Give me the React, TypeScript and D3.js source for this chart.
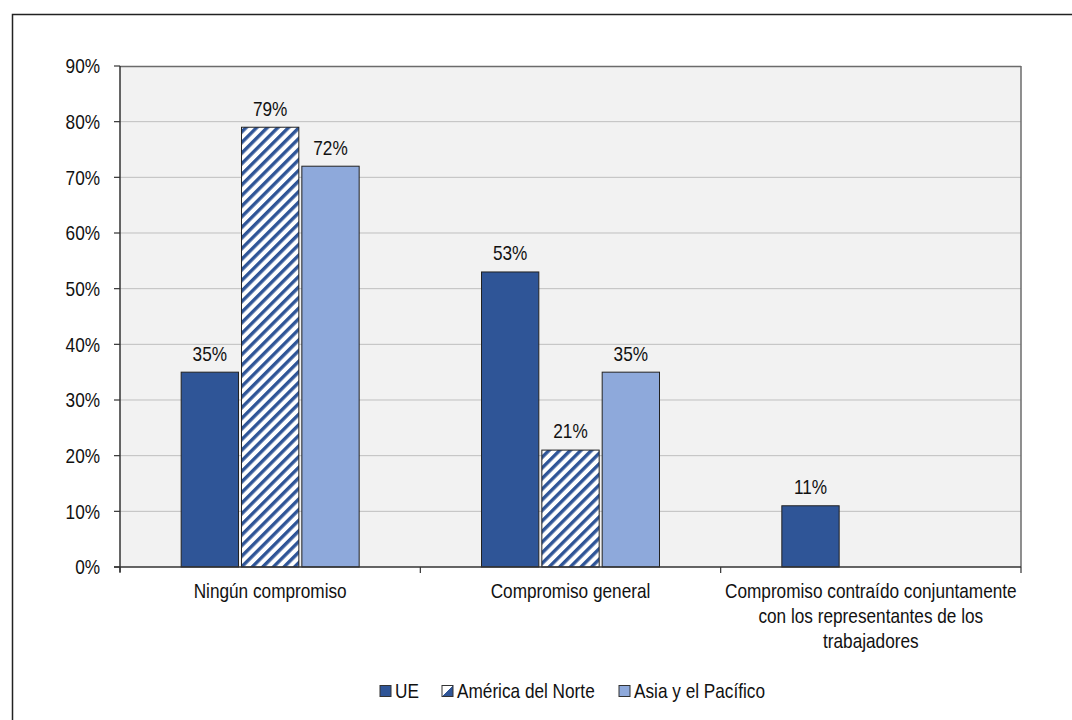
import React from "react";
import * as d3 from "d3";

const categories = [
  ["Ningún compromiso"],
  ["Compromiso general"],
  ["Compromiso contraído conjuntamente", "con los representantes de los", "trabajadores"],
];
const seriesNames = ["UE", "América del Norte", "Asia y el Pacífico"];
const ueValues = [35, 53, 11];
const naValues = [79, 21, null];
const apValues = [72, 35, null];
const yTicks = [0, 10, 20, 30, 40, 50, 60, 70, 80, 90];

const W = 1072;
const H = 720;
const M = { left: 120, right: 1021, top: 66, bottom: 567 };
const FONT = "'Liberation Sans', Arial, sans-serif";
const FS = 21;
const SX = 0.82;
const COLORS = ["#2F5597", "url(#hatch)", "#8EA9DB"];

function T({ x, y, anchor = "start", children }: { x: number; y: number; anchor?: string; children: any }) {
  return (
    <text
      transform={`translate(${x},${y}) scale(${SX},1)`}
      textAnchor={anchor}
      dy="0.35em"
      fontFamily={FONT}
      fontSize={FS}
      fill="#111"
    >
      {children}
    </text>
  );
}

export default function App() {
  const series = [ueValues, naValues, apValues];
  const x0 = d3.scaleBand<number>().domain([0, 1, 2]).range([M.left, M.right]).padding(0);
  const x1 = d3.scaleBand<number>().domain([0, 1, 2]).range([-89, 89]).paddingInner(0.05);
  const y = d3.scaleLinear().domain([0, 90]).range([M.bottom, M.top]);
  const bw = x1.bandwidth();

  const legendItems = [
    { x: 380, tx: 395, label: seriesNames[0], fill: COLORS[0] },
    { x: 442, tx: 457, label: seriesNames[1], fill: "url(#hatchLegend)" },
    { x: 619, tx: 634, label: seriesNames[2], fill: COLORS[2] },
  ];

  return (
    <svg width={W} height={H} style={{ position: "absolute", left: 0, top: 0, background: "#fff" }}>
      <defs>
        <pattern id="hatch" patternUnits="userSpaceOnUse" width="7.5" height="7.5" patternTransform="rotate(45)">
          <rect width="7.5" height="7.5" fill="#ffffff" />
          <rect x="0" y="0" width="3.4" height="7.5" fill="#2F5597" />
        </pattern>
        <linearGradient id="hatchLegend" x1="0" y1="0" x2="1" y2="1">
          <stop offset="0.5" stopColor="#ffffff" />
          <stop offset="0.5" stopColor="#2F5597" />
        </linearGradient>
      </defs>
      <rect x={12.5} y={14.5} width={W} height={H} fill="none" stroke="#222" strokeWidth={1.5} />
      <rect x={M.left} y={M.top} width={M.right - M.left} height={M.bottom - M.top} fill="#F2F2F2" />
      {yTicks.slice(1, -1).map((t) => (
        <line key={t} x1={M.left} x2={M.right} y1={y(t)} y2={y(t)} stroke="#BFBFBF" strokeWidth={1} />
      ))}
      <line x1={M.left} x2={M.right} y1={M.top + 0.5} y2={M.top + 0.5} stroke="#6b6b6b" strokeWidth={1.5} />
      <line x1={M.right} x2={M.right} y1={M.top} y2={M.bottom} stroke="#6b6b6b" strokeWidth={1.5} />
      {series.map((vals, si) =>
        vals.map((v, ci) => {
          if (v == null) return null;
          const bx = (x0(ci) as number) + x0.bandwidth() / 2 + (x1(si) as number);
          return (
            <g key={`${si}-${ci}`}>
              <rect x={bx} y={y(v)} width={bw} height={y(0) - y(v)} fill={COLORS[si]} stroke="#222" strokeWidth={1} />
              <T x={bx + bw / 2} y={y(v) - 19} anchor="middle">
                {v}%
              </T>
            </g>
          );
        })
      )}
      <line x1={M.left} x2={M.left} y1={M.top} y2={M.bottom + 5} stroke="#333" strokeWidth={1.5} />
      <line x1={M.left - 6} x2={M.right} y1={M.bottom} y2={M.bottom} stroke="#333" strokeWidth={1.5} />
      {yTicks.map((t) => (
        <g key={t}>
          <line x1={M.left - 6} x2={M.left} y1={y(t)} y2={y(t)} stroke="#333" strokeWidth={1.2} />
          <T x={100} y={y(t)} anchor="end">
            {t}%
          </T>
        </g>
      ))}
      {[0, 1, 2, 3].map((i) => {
        const xx = i < 3 ? (x0(i) as number) : M.right;
        return <line key={i} x1={xx} x2={xx} y1={M.bottom} y2={M.bottom + 6} stroke="#333" strokeWidth={1.2} />;
      })}
      {categories.map((lines, ci) =>
        lines.map((l, li) => (
          <T key={`${ci}-${li}`} x={(x0(ci) as number) + x0.bandwidth() / 2} y={591 + li * 25} anchor="middle">
            {l}
          </T>
        ))
      )}
      {legendItems.map((it, i) => (
        <g key={i}>
          <rect x={it.x} y={685.5} width={11} height={11} fill={it.fill} stroke="#333" strokeWidth={1} />
          <T x={it.tx} y={691}>
            {it.label}
          </T>
        </g>
      ))}
    </svg>
  );
}
